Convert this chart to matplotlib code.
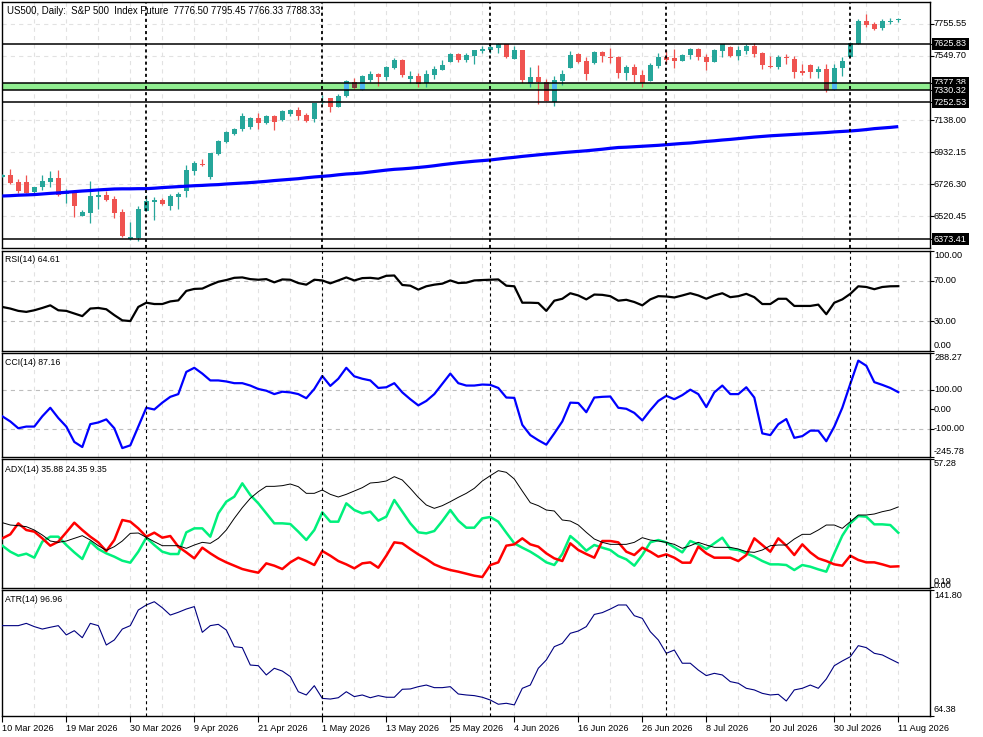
import matplotlib
matplotlib.use('Agg')
import matplotlib.pyplot as plt
import matplotlib.transforms as mtrans
import numpy as np

plt.rcParams['font.family'] = ['Liberation Sans', 'DejaVu Sans']
plt.rcParams['lines.scale_dashes'] = False

# ---------------- data ----------------
header = "US500, Daily:  S&P 500  Index Future  7776.50 7795.45 7766.33 7788.33"

opens = [6775.0, 6785.7, 6740.8, 6740.8, 6676.7, 6706.6, 6740.8, 6766.5, 6661.7, 6678.8,
 6522.8, 6544.1, 6646.8, 6657.4, 6629.7, 6548.4, 6375.3, 6381.7, 6557.0, 6614.7,
 6625.4, 6589.0, 6646.8, 6685.2, 6813.5, 6858.4, 6775.0, 6920.4, 6999.5, 7048.6,
 7078.6, 7095.7, 7149.1, 7121.3, 7161.9, 7138.4, 7179.0, 7202.6, 7168.4, 7144.8,
 7253.9, 7279.5, 7223.9, 7294.5, 7382.1, 7330.8, 7395.0, 7433.4, 7412.1, 7471.9,
 7523.2, 7401.4, 7418.5, 7373.6, 7429.2, 7461.2, 7512.5, 7561.7, 7523.2, 7551.0,
 7583.1, 7587.3, 7602.3, 7623.7, 7531.8, 7587.3, 7367.2, 7414.2, 7384.3, 7253.9,
 7390.7, 7474.0, 7561.7, 7516.8, 7506.1, 7576.7, 7542.5, 7542.5, 7442.0, 7478.3,
 7427.0, 7388.5, 7484.7, 7542.5, 7536.0, 7518.9, 7555.3, 7593.8, 7542.5, 7510.4,
 7580.9, 7606.6, 7548.9, 7580.9, 7613.0, 7568.1, 7484.7, 7478.3, 7542.5, 7529.6,
 7452.7, 7491.1, 7446.3, 7465.5, 7330.8, 7471.9, 7542.5, 7625.8, 7773.3, 7754.1,
 7730.6, 7769.1, 7776.50]

highs = [6792.1, 6824.2, 6762.2, 6785.7, 6708.8, 6785.7, 6809.2, 6817.8, 6695.9, 6685.2,
 6561.2, 6747.2, 6689.5, 6685.2, 6651.0, 6565.5, 6484.3, 6586.9, 6655.3, 6646.8,
 6636.1, 6663.9, 6676.7, 6852.0, 6877.6, 6888.3, 6928.0, 7010.2, 7070.0, 7089.3,
 7181.2, 7159.8, 7181.2, 7168.4, 7170.5, 7204.7, 7211.1, 7221.8, 7183.3, 7250.0,
 7298.8, 7281.0, 7303.0, 7395.0, 7407.8, 7424.9, 7454.8, 7439.8, 7484.7, 7538.2,
 7529.6, 7452.7, 7439.8, 7459.1, 7486.9, 7523.2, 7570.2, 7566.0, 7570.2, 7588.0,
 7613.0, 7630.1, 7634.4, 7625.0, 7610.9, 7588.0, 7478.3, 7491.1, 7401.4, 7420.6,
 7459.1, 7580.9, 7570.2, 7542.5, 7580.9, 7580.9, 7600.2, 7548.9, 7491.1, 7497.6,
 7459.1, 7504.0, 7568.1, 7585.2, 7593.8, 7561.7, 7602.3, 7600.2, 7561.7, 7593.8,
 7625.0, 7613.0, 7613.0, 7625.8, 7632.2, 7574.5, 7548.9, 7555.3, 7561.7, 7548.9,
 7497.6, 7497.6, 7484.7, 7497.6, 7497.6, 7542.5, 7638.6, 7786.1, 7818.2, 7766.9,
 7786.1, 7792.6, 7795.45]

lows = [6770.7, 6728.0, 6668.1, 6668.0, 6663.9, 6687.4, 6710.9, 6653.2, 6608.3, 6518.5,
 6520.0, 6480.0, 6567.7, 6616.8, 6512.1, 6386.0, 6366.0, 6360.0, 6555.0, 6497.1,
 6595.5, 6561.2, 6567.7, 6646.8, 6787.8, 6845.6, 6762.2, 6914.0, 6988.8, 7044.4,
 7070.0, 7082.8, 7082.8, 7114.9, 7076.4, 7134.2, 7166.2, 7138.4, 7127.7, 7127.7,
 7241.0, 7191.9, 7219.7, 7288.1, 7340.0, 7330.0, 7384.3, 7356.5, 7395.0, 7467.6,
 7414.2, 7373.6, 7352.2, 7347.9, 7403.5, 7459.1, 7508.2, 7510.4, 7510.4, 7497.6,
 7570.2, 7570.2, 7570.2, 7538.2, 7527.5, 7377.9, 7352.2, 7243.2, 7258.0, 7230.3,
 7365.0, 7472.0, 7504.0, 7395.0, 7499.7, 7510.4, 7504.0, 7407.8, 7395.0, 7382.1,
 7347.9, 7387.0, 7471.9, 7499.7, 7471.9, 7516.8, 7529.6, 7523.2, 7459.1, 7509.0,
 7542.5, 7542.5, 7523.2, 7561.7, 7544.6, 7465.5, 7474.0, 7465.5, 7497.6, 7407.8,
 7427.0, 7407.8, 7407.8, 7320.1, 7330.0, 7420.6, 7541.0, 7625.0, 7734.8, 7715.6,
 7715.6, 7754.1, 7766.33]

closes = [6787.8, 6736.5, 6683.1, 6672.4, 6708.8, 6747.2, 6766.5, 6659.6, 6676.7, 6589.0,
 6548.4, 6651.0, 6657.4, 6625.4, 6544.1, 6394.5, 6388.1, 6567.7, 6619.0, 6625.4,
 6599.7, 6651.0, 6663.9, 6817.8, 6862.7, 6849.8, 6926.8, 7003.8, 7063.6, 7082.8,
 7164.1, 7153.4, 7121.3, 7164.1, 7127.7, 7196.1, 7202.6, 7166.2, 7134.2, 7249.6,
 7260.3, 7223.9, 7290.2, 7390.7, 7341.5, 7420.6, 7433.4, 7414.2, 7478.3, 7523.2,
 7427.0, 7420.6, 7367.2, 7433.4, 7465.5, 7491.1, 7563.8, 7523.2, 7555.3, 7587.3,
 7593.8, 7606.6, 7623.7, 7544.6, 7587.3, 7395.0, 7414.2, 7384.3, 7260.3, 7395.0,
 7433.4, 7555.3, 7510.4, 7433.4, 7574.5, 7551.0, 7538.2, 7442.0, 7478.3, 7429.2,
 7375.7, 7491.1, 7542.5, 7523.2, 7518.9, 7555.3, 7593.8, 7544.6, 7510.4, 7587.3,
 7623.7, 7548.9, 7587.3, 7613.0, 7561.7, 7491.1, 7478.3, 7542.5, 7536.0, 7446.3,
 7439.8, 7446.3, 7465.5, 7330.8, 7471.9, 7516.8, 7632.2, 7773.3, 7747.7, 7722.0,
 7773.3, 7773.3, 7788.33]

ma_values = [6651, 6653, 6656, 6658, 6660, 6664, 6668, 6671, 6675, 6679,
 6683, 6686, 6690, 6693, 6696, 6697, 6697, 6698, 6698, 6701,
 6705, 6708, 6711, 6714, 6717, 6719, 6722, 6724, 6728, 6731,
 6734, 6737, 6741, 6745, 6750, 6754, 6758, 6762, 6768, 6773,
 6777, 6781, 6787, 6792, 6795, 6799, 6805, 6811, 6817, 6822,
 6825, 6829, 6834, 6839, 6845, 6852, 6858, 6864, 6869, 6874,
 6878, 6882, 6888, 6894, 6899, 6905, 6910, 6915, 6920, 6924,
 6929, 6933, 6937, 6941, 6946, 6951, 6957, 6962, 6964, 6967,
 6970, 6973, 6976, 6980, 6984, 6988, 6991, 6996, 7001, 7005,
 7010, 7014, 7019, 7024, 7029, 7033, 7037, 7040, 7043, 7046,
 7049, 7052, 7055, 7058, 7062, 7065, 7068, 7072, 7077, 7083,
 7087, 7091, 7096]

rsi_values = [44.0, 42.4, 40.1, 39.1, 40.7, 43.0, 45.6, 40.7, 40.1, 37.5,
 34.9, 42.4, 43.0, 41.7, 35.9, 30.7, 30.0, 44.0, 48.2, 46.9,
 46.9, 49.5, 50.5, 59.9, 61.9, 62.2, 65.8, 69.0, 70.7, 72.9,
 73.3, 71.6, 71.0, 71.6, 68.4, 71.3, 71.0, 67.7, 66.1, 71.0,
 70.3, 67.4, 70.3, 73.3, 70.3, 72.6, 72.9, 72.0, 74.9, 75.2,
 65.8, 65.1, 61.2, 64.5, 66.1, 67.1, 70.3, 67.7, 68.1, 70.3,
 70.7, 71.0, 71.3, 65.1, 64.5, 48.2, 48.2, 47.9, 40.1, 50.2,
 52.1, 57.6, 55.4, 51.5, 56.3, 56.0, 54.7, 50.2, 51.1, 48.9,
 45.6, 51.5, 54.7, 54.4, 53.4, 55.4, 57.6, 55.4, 52.1, 55.4,
 57.6, 53.7, 54.7, 57.0, 53.7, 46.9, 46.9, 52.1, 52.1, 45.0,
 45.0, 45.0, 46.3, 36.8, 48.2, 51.5, 57.0, 64.5, 63.8, 61.6,
 63.8, 64.5, 64.61]

cci_values = [-36.8, -63.2, -98.2, -89.5, -89.5, -36.8, 7.0, -45.6, -89.5, -168.4,
 -194.7, -77.2, -68.4, -52.6, -98.2, -200.0, -186.0, -89.5, 7.0, -1.8,
 33.3, 63.2, 77.2, 191.2, 212.3, 182.5, 147.4, 147.4, 142.1, 133.3,
 133.3, 121.1, 103.5, 94.7, 77.2, 89.5, 86.0, 77.2, 56.1, 103.5,
 170.2, 119.3, 156.1, 212.3, 168.4, 156.1, 147.4, 108.8, 112.3, 133.3,
 86.0, 50.9, 19.3, 42.1, 77.2, 129.8, 182.5, 133.3, 121.1, 121.1,
 126.3, 124.6, 108.8, 59.6, 57.9, -80.7, -133.3, -159.6, -182.5, -124.6,
 -63.2, 33.3, 31.6, -15.8, 59.6, 63.2, 64.9, 7.0, 1.8, -19.3,
 -57.9, -5.3, 42.1, 68.4, 50.9, 71.9, 100.0, 77.2, 10.5, 86.0,
 121.1, 77.2, 77.2, 112.3, 59.6, -124.6, -133.3, -77.2, -50.9, -147.4,
 -138.6, -110.5, -110.5, -164.9, -89.5, 7.0, 129.8, 249.1, 222.8, 138.6,
 124.6, 108.8, 87.16]

adx_main = [28.85, 27.80, 27.51, 27.06, 25.57, 23.34, 20.66, 20.06, 20.66, 21.85,
 23.04, 21.10, 18.57, 16.49, 18.13, 20.66, 24.08, 24.23, 22.29, 20.36,
 18.57, 18.57, 18.57, 17.38, 18.87, 20.06, 19.62, 21.85, 25.57, 30.78,
 35.54, 39.71, 42.69, 45.07, 45.07, 45.37, 46.12, 44.93, 41.95, 41.95,
 43.44, 41.50, 40.31, 41.50, 42.99, 44.48, 46.56, 46.86, 47.46, 49.39,
 47.90, 44.18, 40.16, 36.74, 35.25, 36.44, 38.23, 40.16, 41.95, 44.18,
 47.46, 49.84, 52.07, 51.33, 48.35, 42.99, 37.78, 36.44, 34.50, 34.06,
 30.04, 29.59, 27.80, 24.53, 21.55, 20.06, 19.17, 19.17, 19.17, 20.06,
 22.15, 21.10, 20.66, 20.06, 19.17, 17.38, 18.57, 20.06, 18.87, 17.83,
 17.83, 17.83, 17.08, 15.89, 15.59, 16.64, 18.57, 18.87, 18.87, 21.55,
 23.64, 23.64, 25.57, 27.80, 27.80, 26.31, 29.29, 32.27, 32.27, 32.72,
 33.76, 34.50, 35.88]

plus_di = [18.57, 15.89, 14.10, 15.00, 13.21, 20.36, 22.59, 22.59, 18.87, 15.59,
 12.62, 20.36, 17.08, 15.15, 13.66, 11.87, 10.98, 15.89, 22.15, 18.87,
 15.89, 14.85, 14.85, 24.53, 26.31, 26.31, 22.59, 33.01, 38.23, 40.46,
 46.41, 41.20, 37.48, 33.01, 28.55, 28.55, 28.25, 24.83, 21.10, 25.57,
 33.46, 29.29, 29.29, 37.48, 34.50, 33.01, 33.76, 29.74, 31.53, 38.97,
 33.76, 28.55, 24.53, 24.08, 25.12, 29.59, 34.50, 29.74, 26.61, 26.61,
 30.78, 31.38, 29.29, 24.38, 19.62, 17.68, 15.89, 13.66, 11.13, 9.94,
 14.85, 22.89, 19.91, 16.34, 18.87, 17.68, 16.64, 13.96, 12.47, 9.64,
 14.40, 20.06, 21.10, 20.06, 17.83, 15.59, 20.66, 19.17, 17.08, 19.62,
 22.15, 17.08, 16.64, 15.15, 13.66, 11.72, 10.23, 10.23, 9.94, 7.70,
 9.94, 9.19, 8.00, 6.96, 15.15, 23.04, 28.55, 31.82, 31.53, 28.10,
 28.10, 27.80, 24.35]

minus_di = [21.85, 23.64, 28.55, 25.57, 24.83, 21.85, 18.57, 20.36, 24.53, 28.85,
 25.57, 22.59, 20.06, 16.19, 21.10, 30.04, 29.29, 26.31, 22.59, 24.38,
 22.15, 22.89, 18.13, 15.59, 12.91, 17.68, 15.15, 12.91, 11.13, 9.64,
 8.15, 7.26, 6.51, 10.68, 9.64, 8.15, 11.13, 13.21, 11.72, 9.94,
 16.19, 14.10, 11.72, 10.23, 8.45, 10.68, 11.13, 8.74, 14.10, 20.06,
 19.62, 17.08, 14.70, 12.62, 10.23, 8.74, 7.70, 6.96, 6.07, 5.17,
 4.58, 9.94, 11.13, 18.57, 19.17, 21.85, 19.17, 18.13, 15.15, 12.91,
 11.72, 19.62, 16.64, 14.85, 13.21, 20.66, 20.66, 20.06, 15.89, 14.40,
 17.68, 15.89, 13.66, 14.70, 13.21, 10.98, 10.98, 18.13, 15.15, 13.21,
 13.21, 13.21, 11.72, 14.40, 21.85, 18.87, 15.89, 21.85, 18.57, 14.40,
 19.17, 15.59, 12.91, 11.72, 10.23, 9.64, 14.10, 12.20, 11.13, 11.13,
 10.23, 9.19, 9.35]

atr_values = [119.9, 119.9, 119.9, 121.3, 119.3, 117.8, 118.9, 119.9, 114.2, 116.8,
 112.5, 121.3, 119.9, 108.0, 111.1, 117.8, 119.9, 129.5, 132.6, 134.6,
 130.9, 126.4, 128.1, 130.1, 131.6, 115.8, 119.9, 120.7, 117.2, 107.0,
 106.4, 95.7, 95.3, 89.6, 93.7, 92.0, 88.6, 79.3, 77.3, 83.0,
 75.2, 74.8, 75.6, 79.3, 76.3, 77.3, 75.6, 76.9, 75.9, 75.9,
 80.8, 81.0, 82.4, 83.4, 81.8, 81.8, 82.4, 77.9, 77.3, 76.9,
 75.9, 74.2, 71.6, 72.2, 71.2, 81.4, 83.4, 93.7, 98.8, 107.0,
 109.0, 115.2, 116.6, 119.3, 126.8, 127.9, 130.1, 132.6, 132.6, 126.0,
 124.4, 116.2, 111.1, 102.9, 104.9, 96.8, 96.8, 92.6, 89.2, 90.6,
 89.6, 85.5, 84.5, 81.4, 80.4, 78.3, 77.3, 77.7, 73.6, 80.4,
 81.4, 83.4, 81.4, 87.1, 95.3, 98.2, 100.8, 107.6, 106.4, 102.9,
 101.9, 99.4, 96.96]

x_labels = ['10 Mar 2026', '19 Mar 2026', '30 Mar 2026', '9 Apr 2026', '21 Apr 2026',
            '1 May 2026', '13 May 2026', '25 May 2026', '4 Jun 2026', '16 Jun 2026',
            '26 Jun 2026', '8 Jul 2026', '20 Jul 2026', '30 Jul 2026', '11 Aug 2026']
month_start_bars = [18, 40, 61, 83, 106]

price_ticks = [7755.55, 7549.70, 7138.00, 6932.15, 6726.30, 6520.45]
price_grid = [7755.55, 7549.70, 7343.85, 7138.00, 6932.15, 6726.30, 6520.45]
level_prices = [7625.83, 7377.38, 7330.32, 7252.53, 6373.41]
band_lo, band_hi = 7330.32, 7377.38
price_range = (6315.6, 7893.2)

rsi_label, cci_label = "RSI(14) 64.61", "CCI(14) 87.16"
adx_label, atr_label = "ADX(14) 35.88 24.35 9.35", "ATR(14) 96.96"

# ---------------- layout ----------------
W, H = 983, 737
fig = plt.figure(figsize=(W / 100, H / 100), dpi=100)
fig.patch.set_facecolor('white')
LEFT, RIGHT = 2, 930


def add_panel(top, bottom):
    a = fig.add_axes([LEFT / W, 1 - bottom / H, (RIGHT - LEFT) / W, (bottom - top) / H])
    for s in a.spines.values():
        s.set_color('black')
        s.set_linewidth(1.0)
    a.set_facecolor('white')
    return a


ax_p = add_panel(2.3, 248.3)
ax_r = add_panel(250.5, 351.3)
ax_c = add_panel(353.0, 457.0)
ax_a = add_panel(459.0, 587.7)
ax_t = add_panel(590.0, 716.0)
axes = [ax_p, ax_r, ax_c, ax_a, ax_t]

n = len(closes)
xs = np.arange(n)
xlim = ((LEFT - 2.3) / 8.0, (RIGHT - 2.3) / 8.0)

GRID = '#E2E2E2'
for a in axes:
    a.set_xlim(*xlim)
    for gx in range(4, int(xlim[1]) + 1, 4):
        a.axvline(gx, color=GRID, lw=0.8, dashes=(3, 3), zorder=0)
    for sb in month_start_bars:
        a.axvline(sb, color='black', lw=1.3 if a is ax_p else 0.8, dashes=(2.2, 2.2), zorder=8)
    a.tick_params(axis='x', which='both', bottom=False, labelbottom=False)
    a.yaxis.tick_right()
    a.tick_params(axis='y', direction='out', length=3, width=0.8, color='black', labelright=False)

# ---------------- price panel ----------------
o = np.array(opens); h = np.array(highs); l = np.array(lows); c = np.array(closes)
ax_p.set_ylim(*price_range)
for g in price_grid:
    ax_p.axhline(g, color=GRID, lw=0.8, dashes=(3, 3), zorder=0)
ax_p.axhspan(band_lo, band_hi, color='#90EE90', lw=0, zorder=1)

BULL, BEAR = '#26A69A', '#EF5350'
BULL_IN, BEAR_IN = '#4DB6F0', '#7E3C3C'
bull = c >= o
cols = np.where(bull, BULL, BEAR)
blo = np.minimum(o, c)
bh = np.maximum(np.abs(c - o), 4.0)
ax_p.vlines(xs, l, h, colors=cols, lw=0.9, zorder=3)
ax_p.bar(xs, bh, width=0.62, bottom=blo, color=cols, lw=0, zorder=4)
clo = np.maximum(blo, band_lo)
chi = np.minimum(blo + bh, band_hi)
m = chi > clo
ax_p.bar(xs[m], (chi - clo)[m], width=0.62, bottom=clo[m],
         color=np.where(bull, BULL_IN, BEAR_IN)[m], lw=0, zorder=5)

ax_p.plot(xs, ma_values, color='#0000FF', lw=2.3, zorder=6, solid_capstyle='butt')
for lv in level_prices:
    ax_p.axhline(lv, color='black', lw=1.1, zorder=7)
ax_p.set_yticks(price_ticks + level_prices)

# ---------------- RSI ----------------
ax_r.set_ylim(0, 100)
for lv in (70, 30):
    ax_r.axhline(lv, color='#BDBDBD', lw=0.8, dashes=(3, 3), zorder=1)
ax_r.plot(xs, rsi_values, color='black', lw=1.6, zorder=5)
ax_r.set_yticks([100, 70, 30, 0])

# ---------------- CCI ----------------
ax_c.set_ylim(-245.78, 288.27)
for lv in (100, -100):
    ax_c.axhline(lv, color='#BDBDBD', lw=0.8, dashes=(3, 3), zorder=1)
ax_c.plot(xs, cci_values, color='#0000FF', lw=1.6, zorder=5)
ax_c.set_yticks([288.27, 100, 0, -100, -245.78])

# ---------------- ADX ----------------
ax_a.set_ylim(-0.19, 57.28)
ax_a.plot(xs, adx_main, color='black', lw=0.7, zorder=5)
ax_a.plot(xs, plus_di, color='#00F07C', lw=1.8, zorder=4)
ax_a.plot(xs, minus_di, color='#FF0000', lw=1.8, zorder=4)
ax_a.set_yticks([57.28, 0.0])

# ---------------- ATR ----------------
ax_t.set_ylim(64.38, 141.80)
ax_t.plot(xs, atr_values, color='#000080', lw=0.8, zorder=5)
ax_t.set_yticks([141.80, 64.38])
ax_t.set_xticks(list(range(0, n, 8)))
ax_t.set_xticklabels(x_labels, ha='left', fontsize=6.6)
ax_t.tick_params(axis='x', bottom=True, labelbottom=True, direction='out', length=4,
                 width=0.8, pad=1.5)

# ---------------- right-hand labels ----------------
LX = 934 / W


def rtext(a, val, s, boxed=False, off=0.0):
    tr = mtrans.blended_transform_factory(fig.transFigure, a.transData)
    tr = tr + mtrans.ScaledTranslation(0, off / 100.0, fig.dpi_scale_trans)
    kw = dict(fontsize=6.6, va='center', ha='left', transform=tr, clip_on=False, zorder=20)
    if boxed:
        kw.update(color='white',
                  bbox=dict(facecolor='black', edgecolor='none', boxstyle='square,pad=0.18'))
    a.text(LX, val, s, **kw)


for t in price_ticks:
    rtext(ax_p, t, f"{t:.2f}")
for lv in level_prices:
    rtext(ax_p, lv, f"{lv:.2f}", boxed=True)

rtext(ax_r, 100, "100.00", off=-4.5)
rtext(ax_r, 70, "70.00")
rtext(ax_r, 30, "30.00")
rtext(ax_r, 0, "0.00", off=5.5)

rtext(ax_c, 288.27, "288.27", off=-4.8)
rtext(ax_c, 100, "100.00")
rtext(ax_c, 0, "0.00")
rtext(ax_c, -100, "-100.00")
rtext(ax_c, -245.78, "-245.78", off=5.8)

rtext(ax_a, 57.28, "57.28", off=-5.0)
rtext(ax_a, 0.0, "0.19", off=5.6)
rtext(ax_a, 0.0, "0.00", off=1.6)

rtext(ax_t, 141.80, "141.80", off=-5.0)
rtext(ax_t, 64.38, "64.38", off=6.0)

# ---------------- titles ----------------
fig.text(7 / W, 1 - 10.5 / H, header, fontsize=6.9, va='center', ha='left')
for lab, yy in ((rsi_label, 260), (cci_label, 362.7), (adx_label, 469), (atr_label, 600)):
    fig.text(5 / W, 1 - yy / H, lab, fontsize=6.3, va='center', ha='left')

fig.savefig('out.png', dpi=100, facecolor='white')
